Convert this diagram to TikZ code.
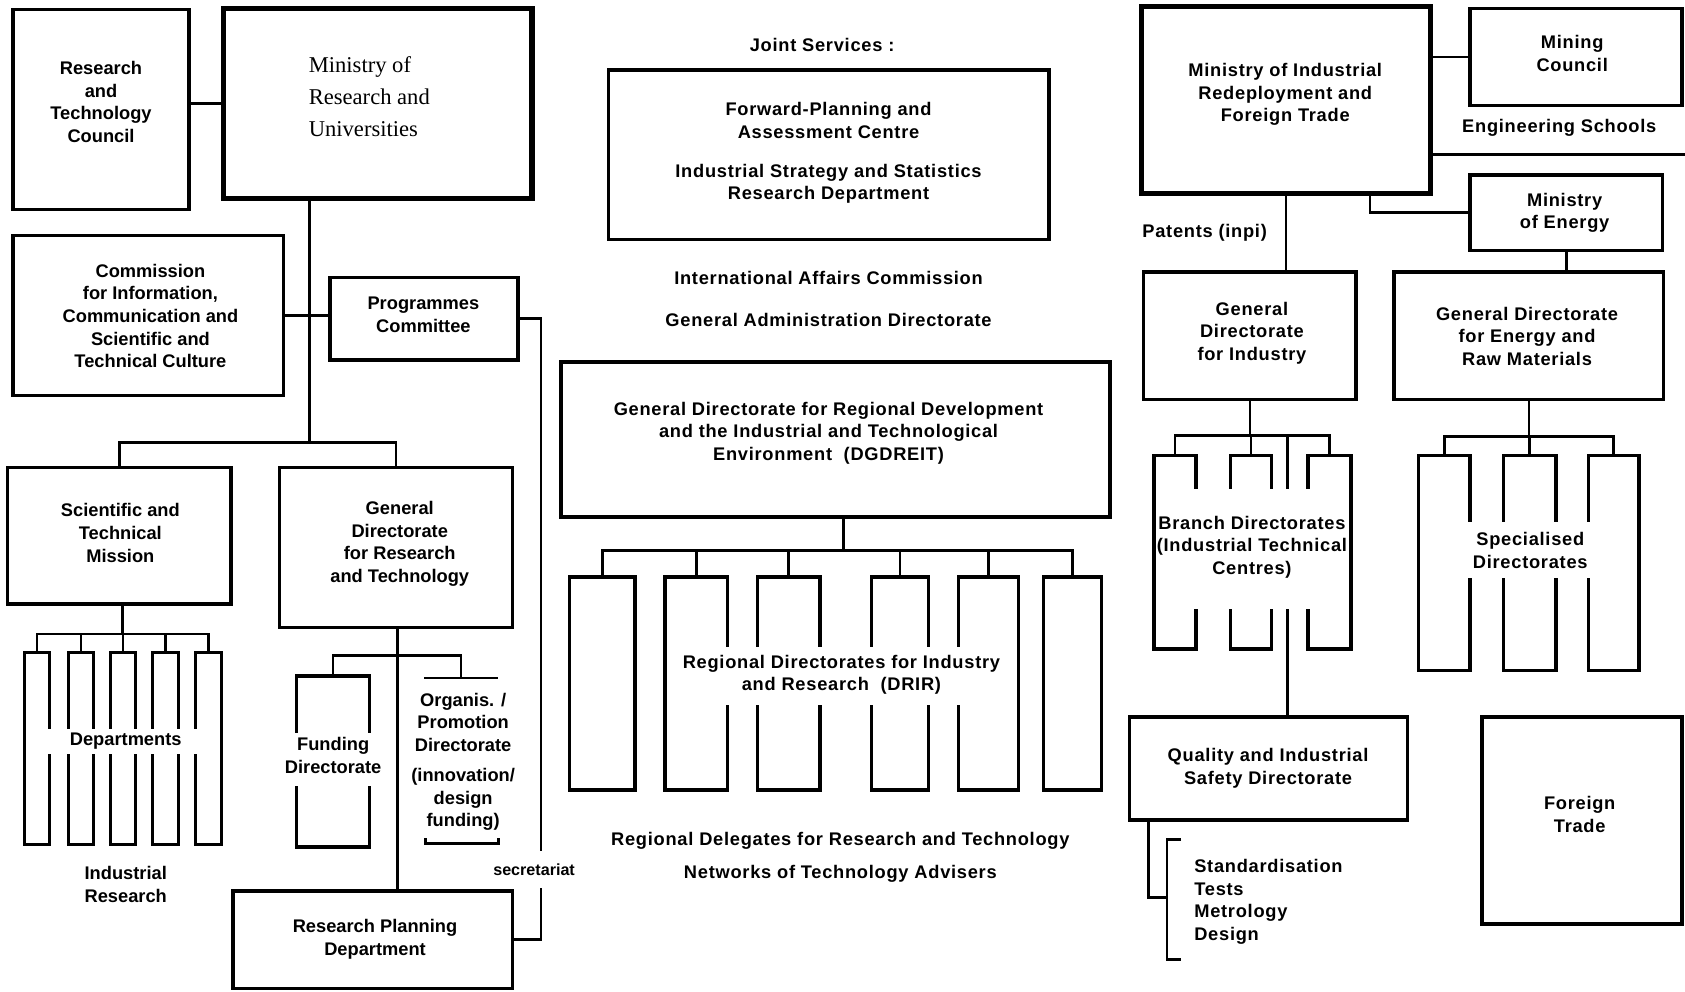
\documentclass[tikz,border=0pt]{standalone}
\usepackage{fontspec}
\setmainfont{Liberation Sans}
\newfontfamily\serifmin{Liberation Serif}
\newfontfamily\spacedsans{Liberation Sans}[LetterSpace=4]
\usetikzlibrary{fit}
\begin{document}
\begin{tikzpicture}[x=0.5pt,y=-0.5pt,
 box/.style={draw, line width=1.6pt, inner sep=0pt},
 thickbox/.style={draw, line width=2.4pt, inner sep=0pt},
 conn/.style={line width=1.2pt},
 lbl/.style={font=\fontsize{8.5}{10.5}\selectfont\bfseries, align=center, inner sep=0pt},
 lbs/.style={font=\spacedsans\fontsize{8.5}{10.5}\selectfont\bfseries, align=center, inner sep=0pt},
 cover/.style={fill=white, inner sep=0pt}]
\useasboundingbox (0,0) rectangle (1568,923);
\fill[white] (0,0) rectangle (1568,923);

% ---------------- LEFT ----------------
\node[box, fit={(12,9)(176,195)}] (rtc) {};
\node[lbl] (rtc-t) at (94,95) {Research\\and\\Technology\\Council};
\node[thickbox, fit={(208,8)(495,185)}] (mru) {};
\node[font=\serifmin\fontsize{10.5}{14.8}\selectfont, align=left, anchor=west, inner sep=0pt] (mru-t) at (287,90) {Ministry of\\Research and\\Universities};
\draw[conn] (mru.west) -- (mru.west -| rtc.east);

\node[box, fit={(12,219)(264,368)}] (com) {};
\node[lbl] (com-t) at (140,294) {Commission\\for Information,\\Communication and\\Scientific and\\Technical Culture};
\node[box, fit={(307,258)(482,335)}] (prog) {};
\node[lbl] (prog-t) at (394,293) {Programmes\\Committee};
\coordinate (j1) at (288,412);
\draw[conn] (mru.south -| j1) -- (j1);
\draw[conn] (com.east) -- (com.east -| prog.west);

\node[box, fit={(7,435)(215,562)}] (stm) {};
\node[lbl] (stm-t) at (112,496) {Scientific and\\Technical\\Mission};
\node[box, fit={(260,435)(477,584)}] (gdrt) {};
\node[lbl] (gdrt-t) at (372,506) {General\\Directorate\\for Research\\and Technology};
\draw[conn] (stm.north) |- (j1) -| (gdrt.north);

\foreach \a/\b [count=\i] in {23/46, 64/87, 103/126, 142/166, 182/206}
  \node[box, fit={(\a,607)(\b,786)}] (d\i) {};
\coordinate (dj) at (114,590);
\draw[conn] (stm.south -| dj) -- (dj);
\draw[conn] (d1.north) |- (dj) -| (d5.north);
\foreach \i in {2,3,4} \draw[conn] (d\i.north) -- (d\i.north |- dj);
\node[cover, fit={(43,678)(185,702)}] (dep-c) {};
\node[lbl] (dep-t) at (117,690) {Departments};
\node[lbl] (ir-t) at (117,823) {Industrial\\Research};

\coordinate (gv) at (370,610);
\node[box, fit={(276,629)(344,788)}] (fund) {};
\node[box, fit={(217,829)(477,920)}] (rpd) {};
\draw[conn] (gdrt.south -| gv) -- (rpd.north -| gv);
\coordinate (oj) at (429,631);
\draw[conn] (fund.north) |- (gv) -| (oj);
\coordinate (ot1) at (395,631);
\coordinate (ot2) at (463,631);
\draw[conn] (ot1) -- (ot2);
\coordinate (ob1) at (396,780);
\coordinate (ob2) at (464,780);
\draw[conn] (ob1) -- ++(0,5) -- ++(68,0) -- (ob2);
\node[cover, fit={(262,682)(358,731)}] (fund-c) {};
\node[lbl] (fund-t) at (310,703) {Funding\\Directorate};
\node[lbl] (org-t) at (431,709) {Organis. /\\Promotion\\Directorate\\[3.5pt](innovation/\\design\\funding)};

\draw[conn] (prog.east) -- ++(20,0) |- (rpd.east);
\node[lbl, font=\fontsize{7.5}{9}\selectfont\bfseries, fill=white, inner xsep=1pt, inner ysep=6pt] (sec-t) at (497,809) {secretariat};
\node[lbl] (rpd-t) at (349,874) {Research Planning\\Department};

% ---------------- MIDDLE ----------------
\node[lbs] (js-t) at (765,42) {Joint Services :};
\node[box, fit={(566,65)(976,223)}] (fp) {};
\node[lbs] (fp-t1) at (771,112) {Forward-Planning and\\Assessment Centre};
\node[lbs] (fp-t2) at (771,171) {Industrial Strategy and Statistics\\Research Department};
\node[lbs] (iac-t) at (771,259) {International Affairs Commission};
\node[lbs] (gad-t) at (771,298) {General Administration Directorate};
\node[box, fit={(522,337)(1033,481)}] (dg) {};
\node[lbs] (dg-t) at (771,403) {General Directorate for Regional Development\\and the Industrial and Technological\\Environment~~(DGDREIT)};
\foreach \a/\b [count=\i] in {530/591, 619/677, 705/763, 811/864, 892/948, 971/1025}
  \node[box, fit={(\a,537)(\b,735)}] (r\i) {};
\coordinate (rj) at (785,512);
\draw[conn] (dg.south -| rj) -- (rj);
\draw[conn] (r1.north) |- (rj) -| (r6.north);
\foreach \i in {2,...,5} \draw[conn] (r\i.north) -- (r\i.north |- rj);
\node[cover, fit={(674,602)(895,656)}] (r-c) {};
\node[lbs] (r-t) at (783,628) {Regional Directorates for Industry\\and Research~~(DRIR)};
\node[lbs] (rd-t) at (782,782) {Regional Delegates for Research and Technology};
\node[lbs] (nt-t) at (782,813) {Networks of Technology Advisers};

% ---------------- RIGHT ----------------
\node[thickbox, fit={(1062,6)(1331,180)}] (mirft) {};
\node[lbs] (mirft-t) at (1196,88) {Ministry of Industrial\\Redeployment and\\Foreign Trade};
\node[box, fit={(1368,8)(1565,98)}] (mc) {};
\node[lbs] (mc-t) at (1463,50) {Mining\\Council};
\draw[conn] (mc.west) -- (mc.west -| mirft.east);
\node[lbs] (es-t) at (1451,119) {Engineering Schools};
\coordinate (esr) at (1568,144);
\draw[conn] (esr -| mirft.east) -- (esr);
\node[box, fit={(1368,163)(1547,233)}] (moe) {};
\node[lbs] (moe-t) at (1456,198) {Ministry\\of Energy};
\coordinate (me) at (1275,198);
\draw[conn] (mirft.south -| me) |- (moe.west);
\node[lbs] (pat-t) at (1121,217) {Patents (inpi)};
\node[box, fit={(1064,253)(1262,372)}] (gdi) {};
\node[lbs] (gdi-t) at (1165,310) {General\\Directorate\\for Industry};
\draw[conn] (mirft.south) -- (mirft.south |- gdi.north);
\node[box, fit={(1297,253)(1548,372)}] (gderm) {};
\node[lbs] (gderm-t) at (1421,313) {General Directorate\\for Energy and\\Raw Materials};
\draw[conn] (moe.south) -- (moe.south |- gderm.north);

\foreach \a/\b [count=\i] in {1074/1113, 1145/1183, 1217/1257}
  \node[box, fit={(\a,424)(\b,604)}] (b\i) {};
\coordinate (bj) at (1163,405);
\draw[conn] (gdi.south) -- (gdi.south |- bj);
\draw[conn] (b1.north) |- (bj) -| (b3.north);
\draw[conn] (b2.north) -- (b2.north |- bj);
\node[box, fit={(1051,667)(1310,763)}] (qual) {};
\coordinate (bq) at (1198,405);
\draw[conn] (bq) -- (bq |- qual.north);
\node[cover, fit={(1110,455)(1220,567)}] (b-c) {};
\node[lbs] (b-t) at (1165,509) {Branch Directorates\\(Industrial Technical\\Centres)};
\node[lbs] (qual-t) at (1180,715) {Quality and Industrial\\Safety Directorate};

\coordinate (qb) at (1069,835);
\coordinate (bk) at (1086,835);
\draw[conn] (qual.south -| qb) |- (bk);
\coordinate (bt) at (1099,781);
\coordinate (bb) at (1099,893);
\draw[conn] (bt) -| (bk) |- (bb);
\node[lbs, align=left, anchor=west] (std-t) at (1111,839) {Standardisation\\Tests\\Metrology\\Design};

\foreach \a/\b [count=\i] in {1320/1368, 1399/1448, 1478/1525}
  \node[box, fit={(\a,424)(\b,624)}] (s\i) {};
\coordinate (sj) at (1423,406);
\draw[conn] (gderm.south -| sj) -- (sj);
\draw[conn] (s1.north) |- (sj) -| (s3.north);
\draw[conn] (s2.north) -- (s2.north |- sj);
\node[cover, fit={(1365,486)(1481,538)}] (s-c) {};
\node[lbs] (s-t) at (1424,512) {Specialised\\Directorates};
\node[box, fit={(1379,667)(1565,860)}] (ft) {};
\node[lbs] (ft-t) at (1470,758) {Foreign\\Trade};
\end{tikzpicture}
\end{document}
